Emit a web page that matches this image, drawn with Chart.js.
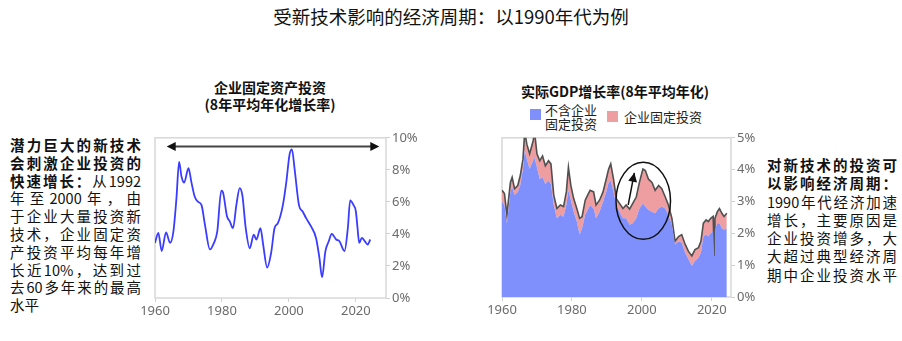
<!DOCTYPE html>
<html>
<head>
<meta charset="utf-8">
<script src="https://cdn.jsdelivr.net/npm/chart.js@4.4.1/dist/chart.umd.min.js"></script>
<style>
  html, body { margin: 0; padding: 0; background: #fff; }
  body { width: 902px; height: 341px; position: relative; overflow: hidden;
         font-family: "Noto Sans CJK SC", "Noto Sans", sans-serif; color: #111; }
  .abs { position: absolute; }
  #title { left: 0; width: 902px; top: 3px; text-align: center; font-size: 18.5px; }
  .ctitle { font-size: 14px; font-weight: bold; text-align: center; line-height: 17px; }
  .note { font-size: 14.5px; line-height: 17.8px; width: 131px; }
  .note div { text-align: justify; text-align-last: justify; white-space: nowrap; }
  .note div.last { text-align-last: left; }
  .note b { font-weight: bold; }
  .legend { font-size: 13px; line-height: 13.5px; color: #222; }
  .sw { position: absolute; width: 11px; height: 11px; }
  canvas { position: absolute; }
</style>
</head>
<body>
<div id="title" class="abs">受新技术影响的经济周期：以1990年代为例</div>

<div class="abs ctitle" style="left:170px; width:200px; top:79px;">企业固定资产投资<br>(8年平均年化增长率)</div>
<div class="abs ctitle" style="left:505px; width:220px; top:83px;">实际GDP增长率(8年平均年化)</div>

<div class="abs legend" style="left:530px; top:103px;">
  <span class="sw" style="left:0; top:6px; background:#7f8ffc;"></span>
  <span style="position:absolute; left:15px; top:0; white-space:nowrap;">不含企业<br>固定投资</span>
  <span class="sw" style="left:77px; top:8px; background:#ee9ea0;"></span>
  <span style="position:absolute; left:94px; top:7px; white-space:nowrap;">企业固定投资</span>
</div>

<div class="abs note" style="left:10px; top:136px;">
  <div><b>潜力巨大的新技术</b></div>
  <div><b>会刺激企业投资的</b></div>
  <div><b>快速增长：</b>从1992</div>
  <div>年至2000年，由</div>
  <div>于企业大量投资新</div>
  <div>技术，企业固定资</div>
  <div>产投资平均每年增</div>
  <div>长近10%，达到过</div>
  <div>去60多年来的最高</div>
  <div class="last">水平</div>
</div>

<div class="abs note" style="left:767px; top:156px; width:130px; line-height:18.3px;">
  <div><b>对新技术的投资可</b></div>
  <div><b>以影响经济周期：</b></div>
  <div>1990年代经济加速</div>
  <div>增长，主要原因是</div>
  <div>企业投资增多，大</div>
  <div>大超过典型经济周</div>
  <div>期中企业投资水平</div>
</div>

<canvas id="chart-invest" style="left:130px; top:128px;" width="290" height="192"></canvas>
<canvas id="chart-gdp" style="left:477px; top:128px;" width="288" height="191"></canvas>

<script>
(() => {
  "use strict";

  // ── data ───────────────────────────────────────────────────────────────────
  const xTickYears = [1960, 1980, 2000, 2020];

  // business fixed investment, 8-yr annualised growth (%)
  const invYears = [1960, 1961, 1962, 1963.3, 1964.5, 1965.5, 1966.4, 1967.2, 1967.9, 1968.7,
    1970, 1970.9, 1971.9, 1972.9, 1973.9, 1974.9, 1976.4, 1977.6, 1978.6, 1979.8,
    1980.3, 1981.5, 1982.3, 1983.3, 1984.3, 1985.3, 1986.1, 1987.1, 1988.3, 1989.5,
    1990.3, 1991.5, 1992.3, 1993.5, 1994.7, 1995.7, 1996.7, 1998.2, 1999.2, 2000.2,
    2000.9, 2001.7, 2003, 2004.1, 2005.1, 2006.6, 2008.1, 2009.1, 2009.9, 2010.9,
    2011.9, 2012.8, 2014.1, 2015.1, 2016.6, 2017.6, 2018.3, 2019.3, 2020, 2020.5,
    2021, 2021.8, 2022.7, 2023.5, 2024.3];
  const invGrowth = [3.44, 4.06, 2.93, 4.1, 3.44, 4.16, 6.2, 8.5, 7.6, 7.2,
    8.1, 7.2, 6.3, 6.0, 5.8, 4.6, 3.03, 3.44, 4.16, 6.7,
    6.6, 5.1, 4.8, 4.36, 5.8, 6.86, 6.4, 4.36, 3.1, 3.95,
    3.65, 4.36, 3.34, 1.9, 2.83, 4.36, 4.67, 5.8, 7.2, 8.97,
    9.28, 8.05, 5.8, 5.4, 5.0, 4.47, 3.75, 2.52, 1.29, 2.93,
    3.54, 4.0, 3.65, 3.54, 2.93, 4.36, 6.1, 5.8, 5.4, 4.36,
    3.44, 3.75, 3.54, 3.34, 3.65];

  // real GDP growth, 8-yr annualised (%): total and excluding business investment
  const gdpYears = [1960, 1960.7, 1961.4, 1962.4, 1962.9, 1963.6, 1964.5, 1965.2, 1966, 1966.5,
    1967.1, 1967.9, 1968.9, 1969.3, 1970, 1970.8, 1971.6, 1972.4, 1973.3, 1974,
    1974.8, 1975.7, 1976.7, 1977.6, 1978.4, 1979, 1979.7, 1980.5, 1981.4, 1982.2,
    1982.9, 1983.8, 1984.5, 1985.2, 1986.2, 1986.9, 1987.9, 1988.9, 1989.8, 1990.5,
    1991.1, 1991.9, 1992.7, 1993.6, 1994.6, 1995.5, 1996.5, 1997.4, 1998.4, 1999.3,
    2000.3, 2001, 2001.9, 2002.9, 2003.8, 2004.8, 2005.7, 2006.7, 2007.6, 2008.6,
    2009.5, 2010.5, 2011.4, 2012.4, 2013.3, 2014.3, 2015.2, 2016.2, 2016.9, 2017.6,
    2018.4, 2019, 2019.7, 2020.4, 2020.7, 2020.9, 2021.6, 2022.2, 2022.9, 2023.5,
    2024.3];
  const gdpTotal = [3.35, 3.25, 2.58, 3.6, 3.76, 3.4, 3.5, 3.8, 4.33, 5.2,
    4.8, 4.5, 4.9, 5.2, 4.5, 4.28, 4.43, 4.12, 4.28, 4.18,
    3.2, 2.78, 2.89, 2.84, 3.3, 4.07, 3.5, 3.09, 2.78, 2.47,
    2.52, 3.04, 3.2, 3.35, 3.3, 2.89, 3.04, 3.3, 3.7, 4.02,
    4.18, 3.7, 3.09, 2.94, 2.78, 2.89, 2.76, 2.94, 3.14, 3.6,
    4.02, 3.97, 3.7, 3.6, 3.35, 3.5, 3.4, 3.14, 2.89, 2.47,
    1.75, 1.9, 1.96, 1.65, 1.44, 1.29, 1.49, 1.55, 1.75, 2.32,
    2.42, 2.37, 2.47, 2.53, 1.29, 2.47, 2.68, 2.78, 2.63, 2.53,
    2.63];
  const gdpExInv = [2.99, 2.89, 2.32, 3.3, 3.45, 3.2, 3.3, 3.5, 4.02, 4.6,
    4.33, 4.02, 4.28, 4.38, 4.07, 3.7, 3.76, 3.55, 3.66, 3.55,
    2.89, 2.47, 2.58, 2.52, 2.89, 3.35, 3.04, 2.68, 2.37, 1.96,
    2.16, 2.58, 2.73, 2.89, 2.78, 2.47, 2.68, 2.99, 3.3, 3.6,
    3.66, 3.3, 2.89, 2.68, 2.47, 2.47, 2.27, 2.32, 2.47, 2.78,
    2.94, 2.84, 2.73, 2.68, 2.63, 2.78, 2.84, 2.78, 2.58, 2.27,
    1.65, 1.75, 1.7, 1.39, 1.19, 0.98, 1.13, 1.24, 1.39, 1.9,
    1.96, 1.9, 2.01, 2.06, 1.29, 2.11, 2.32, 2.32, 2.16, 2.11,
    2.16];

  // annotations (data units)
  const spanArrowYears = [1963.5, 2027];
  const spanArrowLevel = 9.45;
  const circleCenter = [2000.4, 3.02];
  const circleRadius = [7.8, 1.21];
  const riseArrowYears = [1996.1, 1997.85];
  const riseArrowLevels = [2.89, 3.9];

  const pts = (xs, ys) => xs.map((x, i) => ({ x, y: ys[i] }));

  Chart.defaults.font.family = "'Noto Sans', 'Open Sans', sans-serif";
  Chart.defaults.font.size = 13;
  Chart.defaults.color = "#6b6b6b";

  const frame = {
    id: "frame",
    beforeDatasetsDraw(chart) {
      const { ctx, chartArea: a } = chart;
      ctx.save();
      ctx.strokeStyle = "#d8d8d8";
      ctx.lineWidth = 1.5;
      ctx.strokeRect(a.left, a.top, a.right - a.left, a.bottom - a.top);
      ctx.restore();
    },
  };

  function arrowHead(ctx, x1, y1, x2, y2, len, half) {
    const a = Math.atan2(y2 - y1, x2 - x1);
    ctx.beginPath();
    ctx.moveTo(x2, y2);
    ctx.lineTo(x2 - len * Math.cos(a) + half * Math.sin(a), y2 - len * Math.sin(a) - half * Math.cos(a));
    ctx.lineTo(x2 - len * Math.cos(a) - half * Math.sin(a), y2 - len * Math.sin(a) + half * Math.cos(a));
    ctx.closePath();
    ctx.fill();
  }

  function scalesFor(xMax, yMax, yStep) {
    return {
      x: {
        type: "linear", min: 1960, max: xMax,
        border: { display: false },
        grid: { drawOnChartArea: false, drawTicks: true, tickLength: 4, color: "#d0d0d0" },
        afterBuildTicks: (s) => { s.ticks = xTickYears.map((v) => ({ value: v })); },
        afterFit: (s) => { s.height = 22; },
        ticks: { padding: 1, maxRotation: 0, callback: (v) => String(v) },
      },
      y: {
        position: "right", min: 0, max: yMax,
        border: { display: false },
        grid: { drawOnChartArea: false, drawTicks: true, tickLength: 4, color: "#d0d0d0" },
        afterFit: (s) => { s.width = 34; },
        ticks: { stepSize: yStep, padding: 2, callback: (v) => v + "%" },
      },
    };
  }

  const baseOptions = (xMax, yMax, yStep) => ({
    responsive: false,
    animation: false,
    layout: { padding: { left: 25, top: 7, right: 0, bottom: 0 } },
    plugins: { legend: { display: false }, tooltip: { enabled: false } },
    elements: { point: { radius: 0 } },
    scales: scalesFor(xMax, yMax, yStep),
  });

  // ── left: business investment growth ──────────────────────────────────────
  new Chart(document.getElementById("chart-invest"), {
    type: "line",
    data: {
      datasets: [{
        data: pts(invYears, invGrowth),
        borderColor: "#3a3cff",
        borderWidth: 1.8,
        cubicInterpolationMode: "monotone",
        fill: false,
      }],
    },
    options: baseOptions(2029, 10, 2),
    plugins: [frame, {
      id: "spanArrow",
      afterDatasetsDraw(chart) {
        const { ctx, scales: { x, y } } = chart;
        const x1 = x.getPixelForValue(spanArrowYears[0]);
        const x2 = x.getPixelForValue(spanArrowYears[1]);
        const yy = y.getPixelForValue(spanArrowLevel);
        ctx.save();
        ctx.strokeStyle = "#444";
        ctx.fillStyle = "#111";
        ctx.lineWidth = 2;
        ctx.beginPath();
        ctx.moveTo(x1 + 6, yy);
        ctx.lineTo(x2 - 6, yy);
        ctx.stroke();
        arrowHead(ctx, x2, yy, x1, yy, 9, 4.5);
        arrowHead(ctx, x1, yy, x2, yy, 9, 4.5);
        ctx.restore();
      },
    }],
  });

  // ── right: real GDP growth, stacked contributions ─────────────────────────
  new Chart(document.getElementById("chart-gdp"), {
    type: "line",
    data: {
      datasets: [
        {
          label: "不含企业固定投资",
          data: pts(gdpYears, gdpExInv),
          borderWidth: 0,
          backgroundColor: "#7f8ffc",
          fill: "origin",
        },
        {
          label: "企业固定投资",
          data: pts(gdpYears, gdpTotal),
          borderColor: "#505050",
          borderWidth: 1.6,
          backgroundColor: "#ee9ea0",
          fill: "-1",
        },
      ],
    },
    options: baseOptions(2025.5, 5, 1),
    plugins: [frame, {
      id: "circleNote",
      afterDatasetsDraw(chart) {
        const { ctx, scales: { x, y } } = chart;
        const cx = x.getPixelForValue(circleCenter[0]);
        const cy = y.getPixelForValue(circleCenter[1]);
        const rx = x.getPixelForValue(circleCenter[0] + circleRadius[0]) - cx;
        const ry = cy - y.getPixelForValue(circleCenter[1] + circleRadius[1]);
        ctx.save();
        ctx.strokeStyle = "#111";
        ctx.fillStyle = "#111";
        ctx.lineWidth = 1.5;
        ctx.beginPath();
        ctx.ellipse(cx, cy, rx, ry, 0, 0, Math.PI * 2);
        ctx.stroke();
        const ax1 = x.getPixelForValue(riseArrowYears[0]);
        const ay1 = y.getPixelForValue(riseArrowLevels[0]);
        const ax2 = x.getPixelForValue(riseArrowYears[1]);
        const ay2 = y.getPixelForValue(riseArrowLevels[1]);
        ctx.lineWidth = 1.5;
        ctx.beginPath();
        ctx.moveTo(ax1, ay1);
        ctx.lineTo(ax2, ay2);
        ctx.stroke();
        arrowHead(ctx, ax1, ay1, ax2, ay2, 9, 4.5);
        ctx.restore();
      },
    }],
  });
})();
</script>
</body>
</html>
